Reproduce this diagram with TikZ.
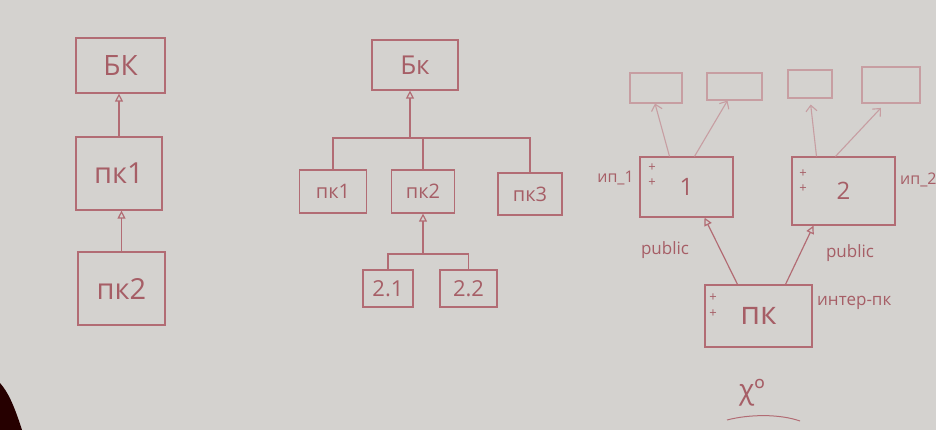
\documentclass[tikz,border=0pt]{standalone}
\usepackage{fontspec}
\setmainfont{Open Sans}
\usetikzlibrary{arrows.meta}
\definecolor{board}{HTML}{D4D2CF}
\definecolor{ink}{HTML}{B26C74}
\definecolor{inktext}{HTML}{A65E66}
\definecolor{faint}{HTML}{C79EA2}
\tikzset{
  box/.style={draw=ink, line width=1.2pt, rectangle, inner sep=0pt, text=inktext},
  fbox/.style={draw=faint, line width=1.1pt, rectangle, inner sep=0pt},
  wire/.style={draw=ink, line width=1.2pt},
  inh/.style={draw=ink, line width=1.2pt, -{Triangle[open, length=8pt, width=8pt]}},
  assoc/.style={draw=faint, line width=1.1pt, -{Straight Barb[length=6pt, width=11pt]}},
  lbl/.style={text=inktext, inner sep=0pt},
  marks/.style={text=inktext, inner sep=0pt, font=\fontsize{13}{13}\selectfont}
}
\begin{document}
\begin{tikzpicture}[x=1pt, y=-1pt]
\useasboundingbox (0,0) rectangle (936,430);
\fill[board] (0,0) rectangle (936,430);
\begin{scope}
\clip (0,0) rectangle (936,430);
% dark object at the lower left corner
\fill[black!85!red] (0,383) .. controls (8,392) and (14,405) .. (22,430) -- (0,430) -- cycle;

% ---------- left column ----------
\node[box, minimum width=89pt, minimum height=55pt, font=\fontsize{28}{30}\selectfont] (bk1) at (120.5,65.5) {БК};
\node[box, minimum width=86pt, minimum height=73pt, font=\fontsize{29}{30}\selectfont] (pk11) at (119,173.5) {пк1};
\node[box, minimum width=87pt, minimum height=73pt, font=\fontsize{29}{30}\selectfont] (pk12) at (121.5,288.5) {пк2};
\draw[inh] (pk11.north) -- (pk11.north |- bk1.south);
\draw[inh] (pk12.north) -- (pk12.north |- pk11.south);

% ---------- middle tree ----------
\node[box, minimum width=86pt, minimum height=50pt, font=\fontsize{26}{28}\selectfont] (bk2) at (415,65) {Бк};
\node[box, minimum width=67pt, minimum height=43pt, font=\fontsize{20}{22}\selectfont] (pk21) at (333,191.5) {пк1};
\node[box, minimum width=63pt, minimum height=43pt, font=\fontsize{20}{22}\selectfont] (pk22) at (423,191.5) {пк2};
\node[box, minimum width=64pt, minimum height=42pt, font=\fontsize{20}{22}\selectfont] (pk23) at (530,194) {пк3};
\coordinate (j1) at (410,138);
\draw[inh] (j1) -- (j1 |- bk2.south);
\draw[wire] (pk21.north) -- (pk21.north |- j1) -- (pk23.north |- j1) -- (pk23.north);
\draw[wire] (pk22.north |- j1) -- (pk22.north);

\node[box, minimum width=50pt, minimum height=37pt, font=\fontsize{22}{24}\selectfont] (c21) at (388,288.5) {2.1};
\node[box, minimum width=57pt, minimum height=37pt, font=\fontsize{22}{24}\selectfont] (c22) at (468.5,288.5) {2.2};
\coordinate (j2) at (423,254);
\draw[inh] (j2) -- (j2 |- pk22.south);
\draw[wire] (c21.north) -- (c21.north |- j2) -- (c22.north |- j2) -- (c22.north);

% ---------- right part ----------
\node[fbox, minimum width=52pt, minimum height=30pt] (tA) at (656,88) {};
\node[fbox, minimum width=55pt, minimum height=27pt] (tB) at (734.5,86.5) {};
\node[fbox, minimum width=44pt, minimum height=28pt] (tC) at (810,84) {};
\node[fbox, minimum width=58pt, minimum height=36pt] (tD) at (891,85) {};

\node[box, minimum width=93pt, minimum height=60pt, font=\fontsize{24}{26}\selectfont] (b1) at (686.5,187) {1};
\node[box, minimum width=103pt, minimum height=68pt, font=\fontsize{24}{26}\selectfont] (b2) at (843.5,191) {2};
\node[box, minimum width=107pt, minimum height=62pt, font=\fontsize{32}{34}\selectfont] (pkR) at (758.5,316) {пк};

\node[marks] (m1a) at (652,168) {+};
\node[marks] (m1b) at (652,183) {+};
\node[marks] (m2a) at (803,174) {+};
\node[marks] (m2b) at (803,189) {+};
\node[marks] (m3a) at (713,298) {+};
\node[marks] (m3b) at (713,314) {+};

\draw[assoc] ([xshift=-17pt]b1.north) -- ([xshift=-1pt]tA.south);
\draw[assoc] ([xshift=8pt]b1.north) -- ([xshift=-7pt]tB.south);
\draw[assoc, shorten >=6pt] ([xshift=-27pt]b2.north) -- (tC.south);
\draw[assoc, shorten >=6pt] ([xshift=-8pt]b2.north) -- ([xshift=-6pt]tD.south);

\draw[inh] ([xshift=-21pt]pkR.north) -- ([xshift=18pt]b1.south);
\draw[inh] ([xshift=27pt]pkR.north) -- ([xshift=-30pt]b2.south);

\node[lbl, anchor=east, font=\fontsize{16}{18}\selectfont] (l1) at (634,178) {ип\_1};
\node[lbl, anchor=west, font=\fontsize{16}{18}\selectfont] (l2) at (900,180) {ип\_2};
\node[lbl, font=\fontsize{17}{19}\selectfont] (p1) at (665,250) {public};
\node[lbl, font=\fontsize{17}{19}\selectfont] (p2) at (850,253) {public};
\node[lbl, anchor=west, font=\fontsize{17}{19}\selectfont] (ik) at (817,303) {интер-пк};

\node[lbl, font=\fontsize{28}{30}\selectfont] (chi) at (752,393) {χº};
\draw[wire, line width=1pt] (727,420) .. controls (750,414) and (780,414) .. (800,421);
\end{scope}
\end{tikzpicture}
\end{document}
